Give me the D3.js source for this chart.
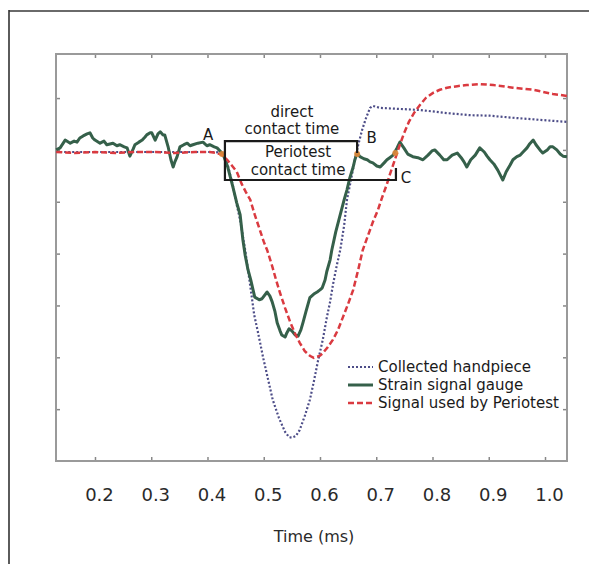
<!DOCTYPE html>
<html>
<head>
<meta charset="utf-8">
<script src="https://cdn.jsdelivr.net/npm/d3@7"></script>
<style>
  html, body { margin: 0; padding: 0; background: #fff; }
  svg { display: block; font-family: "DejaVu Sans", sans-serif; }
</style>
</head>
<body>
<svg id="chart" width="589" height="564"></svg>
<script>
// ---------- data ----------
const xTicks = [0.2, 0.3, 0.4, 0.5, 0.6, 0.7, 0.8, 0.9, 1.0];
const xTickLabels = ["0.2", "0.3", "0.4", "0.5", "0.6", "0.7", "0.8", "0.9", "1.0"];
const yTicks = [-5, -4, -3, -2, -1, 0, 1];
const xTitle = "Time (ms)";

// Collected handpiece (dotted)
const collected = [
  [0.131,-0.04],[0.244,-0.04],[0.351,-0.04],[0.413,-0.04],[0.426,-0.06],[0.436,-0.29],
  [0.445,-0.68],[0.452,-1.06],[0.458,-1.35],[0.467,-1.93],[0.472,-2.31],[0.477,-2.70],
  [0.483,-3.18],[0.490,-3.53],[0.499,-4.01],[0.508,-4.44],[0.516,-4.82],[0.527,-5.17],
  [0.538,-5.44],[0.545,-5.54],[0.550,-5.55],[0.557,-5.52],[0.564,-5.40],[0.573,-5.13],
  [0.582,-4.82],[0.589,-4.47],[0.596,-4.09],[0.605,-3.66],[0.612,-3.24],[0.618,-2.93],
  [0.623,-2.60],[0.630,-2.22],[0.636,-1.93],[0.643,-1.45],[0.648,-0.96],[0.655,-0.58],
  [0.662,-0.19],[0.668,0.10],[0.675,0.39],[0.682,0.62],[0.689,0.81],[0.694,0.85],
  [0.707,0.81],[0.742,0.79],[0.778,0.77],[0.826,0.71],[0.867,0.67],[0.902,0.66],
  [0.943,0.62],[0.991,0.58],[1.039,0.54]
];

// Strain signal gauge (solid, noisy)
const strain = [
  [0.131,0],[0.138,0.04],[0.147,0.19],[0.156,0.13],[0.163,0.17],[0.168,0.15],[0.173,0.23],
  [0.179,0.27],[0.186,0.31],[0.191,0.33],[0.196,0.23],[0.200,0.19],[0.209,0.13],[0.216,0.17],
  [0.221,0.10],[0.232,0.13],[0.239,0.08],[0.244,0.10],[0.252,0.06],[0.257,0.04],[0.262,-0.12],
  [0.268,0.02],[0.271,0.10],[0.278,0.15],[0.284,0.19],[0.289,0.25],[0.292,0.29],[0.298,0.33],
  [0.301,0.33],[0.307,0.19],[0.312,0.31],[0.316,0.35],[0.321,0.29],[0.324,0.29],[0.330,0.06],
  [0.335,-0.19],[0.339,-0.33],[0.342,-0.23],[0.346,-0.13],[0.351,0.06],[0.358,0.10],[0.364,0.13],
  [0.369,0.08],[0.374,0.10],[0.383,0.13],[0.392,0.15],[0.399,0.08],[0.404,0.10],[0.412,0.06],
  [0.417,0.04],[0.424,-0.04],[0.429,-0.12],[0.436,-0.33],[0.445,-0.71],[0.452,-1.02],[0.458,-1.25],
  [0.463,-1.74],[0.467,-2.03],[0.472,-2.31],[0.477,-2.51],[0.484,-2.84],[0.492,-2.89],[0.497,-2.87],
  [0.506,-2.74],[0.511,-2.82],[0.515,-2.93],[0.520,-3.12],[0.524,-3.34],[0.529,-3.49],[0.532,-3.57],
  [0.538,-3.61],[0.541,-3.53],[0.545,-3.45],[0.550,-3.49],[0.556,-3.57],[0.561,-3.59],[0.566,-3.47],
  [0.570,-3.32],[0.575,-3.12],[0.582,-2.85],[0.589,-2.78],[0.595,-2.74],[0.600,-2.70],[0.604,-2.66],
  [0.609,-2.51],[0.612,-2.35],[0.618,-2.12],[0.621,-1.93],[0.628,-1.58],[0.636,-1.25],[0.643,-0.96],
  [0.648,-0.77],[0.653,-0.54],[0.659,-0.33],[0.662,-0.19],[0.666,-0.06],[0.671,-0.13],[0.678,-0.17],
  [0.684,-0.19],[0.689,-0.23],[0.694,-0.25],[0.701,-0.31],[0.707,-0.33],[0.714,-0.25],[0.719,-0.19],
  [0.724,-0.15],[0.730,-0.10],[0.737,0.04],[0.742,0.15],[0.749,0.04],[0.756,-0.08],[0.765,-0.13],
  [0.774,-0.15],[0.783,-0.19],[0.792,-0.10],[0.799,-0.02],[0.804,0],[0.813,-0.10],[0.820,-0.19],
  [0.826,-0.19],[0.835,-0.10],[0.844,-0.06],[0.851,-0.15],[0.856,-0.23],[0.861,-0.33],[0.868,-0.19],
  [0.876,-0.10],[0.884,0.04],[0.892,-0.04],[0.897,-0.12],[0.902,-0.19],[0.909,-0.27],[0.916,-0.39],
  [0.925,-0.58],[0.931,-0.42],[0.938,-0.29],[0.943,-0.19],[0.950,-0.13],[0.956,-0.10],[0.961,-0.04],
  [0.968,0.04],[0.973,0.12],[0.979,0.19],[0.984,0.10],[0.991,0],[0.996,-0.06],[1.004,0],
  [1.009,0.06],[1.014,0.06],[1.021,0],[1.027,-0.08],[1.032,-0.12],[1.039,-0.13]
];

// Signal used by Periotest (dashed)
const periotest = [
  [0.131,-0.04],[0.164,-0.06],[0.200,-0.04],[0.236,-0.06],[0.271,-0.04],[0.307,-0.04],
  [0.342,-0.06],[0.378,-0.04],[0.404,-0.04],[0.417,-0.06],[0.426,-0.10],[0.435,-0.19],
  [0.444,-0.31],[0.452,-0.42],[0.461,-0.66],[0.468,-0.81],[0.476,-0.96],[0.484,-1.25],
  [0.493,-1.54],[0.500,-1.77],[0.506,-1.93],[0.515,-2.24],[0.522,-2.51],[0.529,-2.76],
  [0.538,-3.05],[0.547,-3.32],[0.556,-3.55],[0.564,-3.72],[0.573,-3.88],[0.582,-3.97],
  [0.589,-4.01],[0.595,-3.99],[0.600,-3.97],[0.605,-3.92],[0.614,-3.80],[0.623,-3.66],
  [0.632,-3.47],[0.641,-3.22],[0.650,-2.97],[0.659,-2.70],[0.668,-2.31],[0.676,-1.93],
  [0.685,-1.66],[0.694,-1.39],[0.703,-1.16],[0.710,-0.93],[0.719,-0.66],[0.724,-0.48],
  [0.730,-0.29],[0.737,-0.06],[0.742,0.10],[0.749,0.31],[0.758,0.54],[0.767,0.71],
  [0.778,0.87],[0.788,1.00],[0.801,1.10],[0.813,1.16],[0.826,1.20],[0.844,1.23],
  [0.861,1.25],[0.884,1.27],[0.908,1.25],[0.925,1.23],[0.943,1.20],[0.961,1.18],
  [0.979,1.16],[0.996,1.12],[1.014,1.08],[1.027,1.06],[1.039,1.04]
];

// contact points A, B, C
const markerT = [0.426, 0.666, 0.734];
const markerV = [-0.08, -0.08, -0.06];

const legendLabels = ["Collected handpiece", "Strain signal gauge", "Signal used by Periotest"];

// ---------- layout ----------
const W = 589, H = 564;
const plot = { left: 56, top: 54, right: 567, bottom: 461 };

const svg = d3.select("#chart");

const x = d3.scaleLinear().domain([0.1307, 1.0391]).range([plot.left, plot.right]);
const y = d3.scaleLinear().domain([-6.0, 1.85]).range([plot.bottom, plot.top]);

// outer frame (top and left only, rest clipped)
svg.append("line").attr("x1", 9).attr("y1", 11).attr("x2", W).attr("y2", 11)
  .attr("stroke", "#6a6a6a").attr("stroke-width", 2);
svg.append("line").attr("x1", 9).attr("y1", 10).attr("x2", 9).attr("y2", H)
  .attr("stroke", "#333").attr("stroke-width", 1.6);

// axes (ticks pointing inward)
const axisColor = "#9a9a9a";
function styleAxis(g) {
  g.select(".domain").remove();
  g.selectAll(".tick line").attr("stroke", "#888").attr("stroke-width", 1.5);
}
svg.append("g").attr("transform", `translate(0,${plot.bottom})`)
  .call(d3.axisBottom(x).tickValues(xTicks).tickSizeInner(-4).tickSizeOuter(0)
    .tickPadding(27).tickFormat((d, i) => xTickLabels[i]))
  .call(styleAxis)
  .call(g => g.selectAll(".tick text").attr("font-size", 18).attr("fill", "#2a2a2a")
    .attr("font-family", "DejaVu Sans, sans-serif").attr("dx", 4));
svg.append("g").attr("transform", `translate(0,${plot.top})`)
  .call(d3.axisTop(x).tickValues(xTicks).tickSizeInner(-4).tickSizeOuter(0).tickFormat(""))
  .call(styleAxis);
svg.append("g").attr("transform", `translate(${plot.left},0)`)
  .call(d3.axisLeft(y).tickValues(yTicks).tickSizeInner(-4).tickSizeOuter(0).tickFormat(""))
  .call(styleAxis);
svg.append("g").attr("transform", `translate(${plot.right},0)`)
  .call(d3.axisRight(y).tickValues(yTicks).tickSizeInner(-4).tickSizeOuter(0).tickFormat(""))
  .call(styleAxis);

// plot box
svg.append("rect").attr("x", plot.left).attr("y", plot.top)
  .attr("width", plot.right - plot.left).attr("height", plot.bottom - plot.top)
  .attr("fill", "none").attr("stroke", axisColor).attr("stroke-width", 2);

// x title
svg.append("text").attr("x", 314).attr("y", 542).attr("text-anchor", "middle")
  .attr("font-size", 16).attr("fill", "#2a2a2a").text(xTitle);

// ---------- series ----------
const line = d3.line().x(d => x(d[0])).y(d => y(d[1]));
const gLines = svg.append("g");

gLines.append("path").datum(collected).attr("d", line)
  .attr("fill", "none").attr("stroke", "#4d4d88").attr("stroke-width", 2.2)
  .attr("stroke-dasharray", "2,2");
gLines.append("path").datum(strain).attr("d", line)
  .attr("fill", "none").attr("stroke", "#35604a").attr("stroke-width", 3)
  .attr("stroke-linejoin", "round");
gLines.append("path").datum(periotest).attr("d", line)
  .attr("fill", "none").attr("stroke", "#da3a40").attr("stroke-width", 2.5)
  .attr("stroke-dasharray", "6,3");

// contact markers
svg.append("g").selectAll("circle").data(markerT).join("circle")
  .attr("cx", d => x(d)).attr("cy", (d, i) => y(markerV[i])).attr("r", 3)
  .attr("fill", "#e0893a").attr("opacity", 0.9);

// ---------- annotations ----------
const ann = svg.append("g").attr("fill", "#1a1a1a").attr("font-size", 15);
const tA = 0.431, tB = 0.666, tC = 0.735;
const vTop = 0.17, vBot = -0.58;
ann.append("path")
  .attr("d", `M${x(tB)},${y(-0.06)} L${x(tB)},${y(vTop)} L${x(tA)},${y(vTop)} L${x(tA)},${y(vBot)} L${x(tC)},${y(vBot)} L${x(tC)},${y(-0.35)}`)
  .attr("fill", "none").attr("stroke", "#1a1a1a").attr("stroke-width", 2.2);

ann.append("text").attr("x", x(0.401)).attr("y", y(0.19)).attr("text-anchor", "middle").text("A");
ann.append("text").attr("x", x(0.692)).attr("y", y(0.13)).attr("text-anchor", "middle").text("B");
ann.append("text").attr("x", x(0.753)).attr("y", y(-0.64)).attr("text-anchor", "middle").text("C");
ann.append("text").attr("x", x(0.550)).attr("y", y(0.64)).attr("text-anchor", "middle").text("direct");
ann.append("text").attr("x", x(0.550)).attr("y", y(0.31)).attr("text-anchor", "middle").text("contact time");
ann.append("text").attr("x", x(0.561)).attr("y", y(-0.13)).attr("text-anchor", "middle").text("Periotest");
ann.append("text").attr("x", x(0.561)).attr("y", y(-0.48)).attr("text-anchor", "middle").text("contact time");

// ---------- legend ----------
const legStyles = [
  { stroke: "#4d4d88", dash: "2,2", w: 2.2 },
  { stroke: "#35604a", dash: null, w: 3 },
  { stroke: "#da3a40", dash: "6,3", w: 2.5 }
];
const leg = svg.append("g").attr("transform", "translate(348,367)");
legendLabels.forEach((lab, i) => {
  const row = leg.append("g").attr("transform", `translate(0,${i * 18})`);
  row.append("line").attr("x1", 0).attr("x2", 25).attr("y1", 0).attr("y2", 0)
    .attr("stroke", legStyles[i].stroke).attr("stroke-width", legStyles[i].w)
    .attr("stroke-dasharray", legStyles[i].dash);
  row.append("text").attr("x", 30).attr("y", 0).attr("dy", "0.35em")
    .attr("font-size", 15).attr("fill", "#1a1a1a").text(lab);
});
</script>
</body>
</html>
